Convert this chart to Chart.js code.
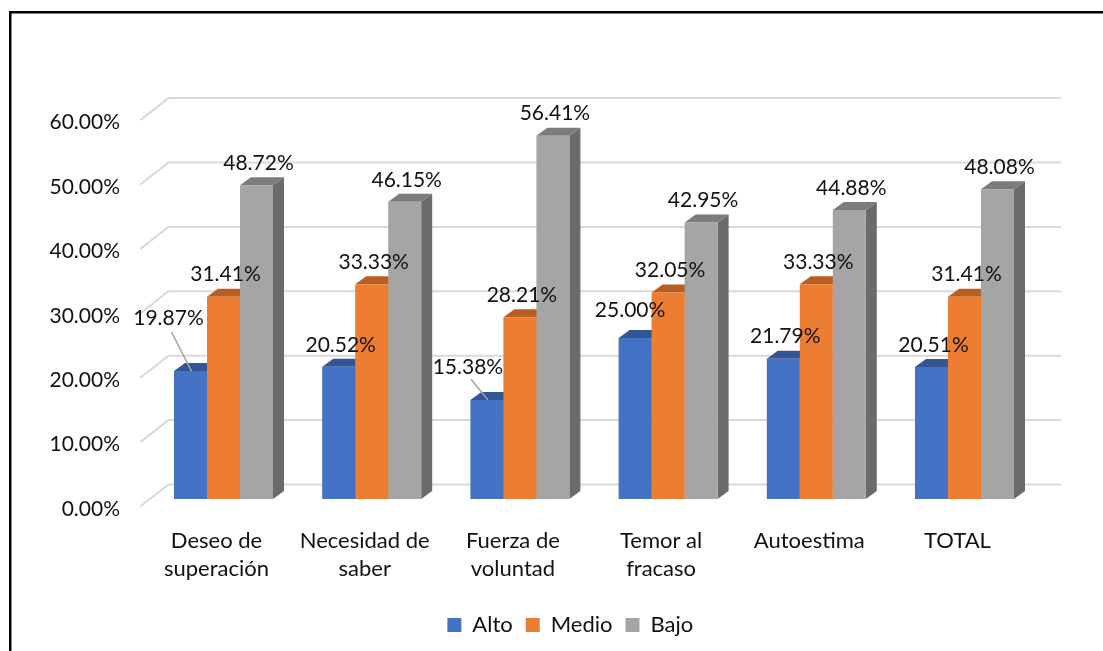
<!DOCTYPE html>
<html>
<head>
<meta charset="utf-8">
<style>html,body{margin:0;padding:0;background:#fff}canvas{display:block}</style>
<script src="https://cdn.jsdelivr.net/npm/chart.js@4"></script>
</head>
<body>
<canvas id="c" width="1103" height="651"></canvas>
<script>
const categories = [["Deseo de","superación"],["Necesidad de","saber"],["Fuerza de","voluntad"],["Temor al","fracaso"],"Autoestima","TOTAL"];
const alto  = [19.87,20.52,15.38,25.00,21.79,20.51];
const medio = [31.41,33.33,28.21,32.05,33.33,31.41];
const bajo  = [48.72,46.15,56.41,42.95,44.88,48.08];
const FONT = 'Lato';
const TXT = '#111';

const palette = [
  {front:'#4472C4', top:'#335593', side:'#2F528F'},
  {front:'#ED7D31', top:'#B95E22', side:'#AE5A21'},
  {front:'#A5A5A5', top:'#7C7C7C', side:'#6B6B6B'}
];
const D3 = {dx:11, dy:8};
// label placement exceptions: "dataset:index" -> [dx, dy, leader]
const labelMoves = {"0:0":[-22,-53,true],"0:2":[-19,-33,true],"0:3":[-5,-28,false]};

const legendShift = {
  id:'legendShift',
  afterLayout(chart){
    chart.legend.left += 51;
    chart.legend.right += 51;
  }
};
const backdrop = {
  id:'backdrop',
  beforeDatasetsDraw(chart){
    const {ctx, chartArea:a, scales:{y}} = chart;
    ctx.save();
    // outer frame
    ctx.fillStyle='#000';
    ctx.fillRect(9,11,2.5,640);
    ctx.fillRect(9,11,1094,2.5);
    // 3D wall/floor gridlines
    ctx.strokeStyle='#D9D9D9'; ctx.lineWidth=2;
    y.ticks.forEach(t=>{
      const p=y.getPixelForValue(t.value);
      ctx.beginPath();
      ctx.moveTo(a.left-9,p+7.5);
      ctx.lineTo(a.left+19,p-14.5);
      ctx.lineTo(1061,p-14.5);
      ctx.stroke();
    });
    // bar depth faces
    chart.data.datasets.forEach((ds,i)=>{
      chart.getDatasetMeta(i).data.forEach(b=>{
        const l=b.x-b.width/2, r=b.x+b.width/2, t=b.y, bot=b.base;
        ctx.fillStyle=palette[i].side;
        ctx.beginPath();
        ctx.moveTo(r,t);ctx.lineTo(r+D3.dx,t-D3.dy);ctx.lineTo(r+D3.dx,bot-D3.dy);ctx.lineTo(r,bot);
        ctx.closePath();ctx.fill();
        ctx.fillStyle=palette[i].top;
        ctx.beginPath();
        ctx.moveTo(l,t);ctx.lineTo(l+D3.dx,t-D3.dy);ctx.lineTo(r+D3.dx,t-D3.dy);ctx.lineTo(r,t);
        ctx.closePath();ctx.fill();
      });
    });
    ctx.restore();
  }
};
const valueLabels = {
  id:'valueLabels',
  afterDatasetsDraw(chart){
    const {ctx}=chart;
    ctx.save();
    ctx.font='21px '+FONT;
    ctx.textAlign='center';ctx.textBaseline='middle';
    chart.data.datasets.forEach((ds,i)=>{
      chart.getDatasetMeta(i).data.forEach((b,j)=>{
        const mv=labelMoves[i+':'+j]||[2,-22,false];
        if(mv[2]){
          ctx.strokeStyle='#A5A5A5';ctx.lineWidth=1.5;
          ctx.beginPath();
          ctx.moveTo(b.x+mv[0]+3,b.y+mv[1]+(j===0?14:12));
          ctx.lineTo(b.x+1,b.y);
          ctx.stroke();
        }
        ctx.fillStyle=TXT;
        ctx.fillText(ds.data[j].toFixed(2)+'%',b.x+mv[0],b.y+mv[1]);
      });
    });
    ctx.restore();
  }
};

new Chart(document.getElementById('c'),{
  type:'bar',
  data:{labels:categories,datasets:[
    {label:'Alto', data:alto, backgroundColor:palette[0].front},
    {label:'Medio',data:medio,backgroundColor:palette[1].front},
    {label:'Bajo', data:bajo, backgroundColor:palette[2].front}
  ]},
  options:{
    responsive:false,animation:false,
    layout:{padding:{top:112.6,left:0,right:64.4,bottom:5}},
    datasets:{bar:{categoryPercentage:0.668,barPercentage:1}},
    scales:{
      x:{
        grid:{display:false},border:{display:false},
        afterFit(s){s.height=102;},
        ticks:{color:TXT,font:{family:FONT,size:22,lineHeight:1.27},maxRotation:0,autoSkip:false,labelOffset:-7,padding:20}
      },
      y:{
        min:0,max:60,
        grid:{display:false},border:{display:false},
        afterFit(s){s.width=149.4;},
        ticks:{stepSize:10,color:TXT,font:{family:FONT,size:21},padding:21.4,labelOffset:10,callback:v=>v.toFixed(2)+'%'}
      }
    },
    plugins:{
      title:{display:false},tooltip:{enabled:false},
      legend:{display:true,position:'bottom',labels:{boxWidth:14,boxHeight:14,padding:13,color:TXT,font:{family:FONT,size:22}}}
    }
  },
  plugins:[legendShift,backdrop,valueLabels]
});
</script>
</body>
</html>
